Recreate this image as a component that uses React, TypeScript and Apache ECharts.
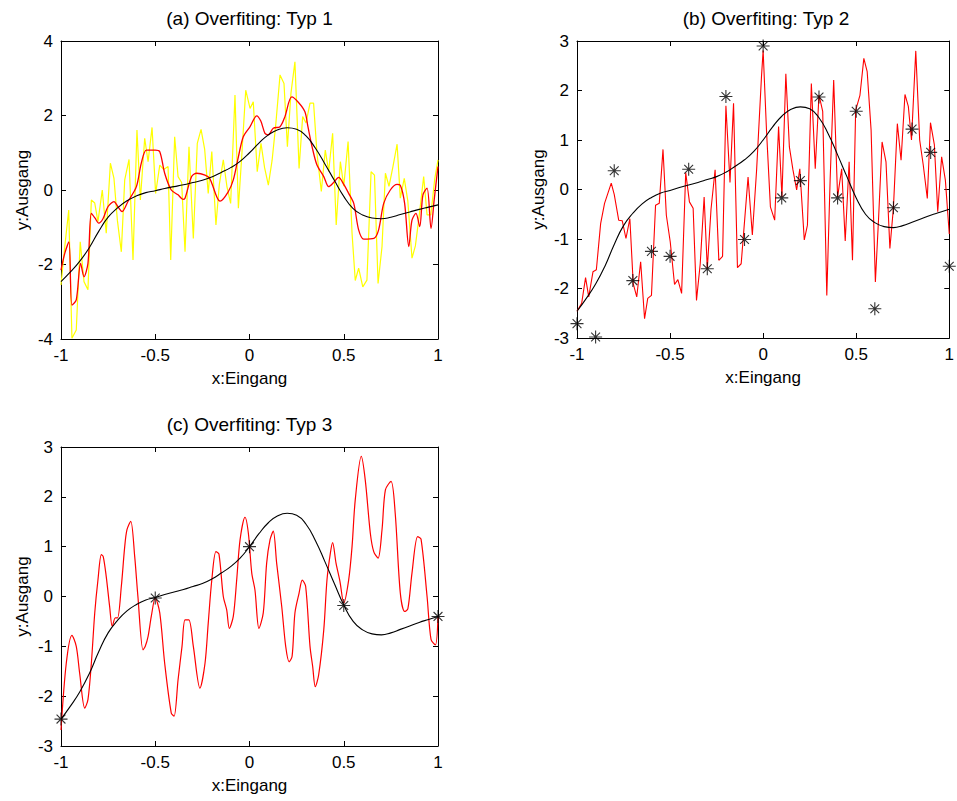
import React, { useEffect, useRef } from "react";
import * as echarts from "echarts";

// ---------- data ----------
const xTicks = [-1, -0.5, 0, 0.5, 1];

// true function (black curve), sampled every 0.05
const trueX = [-1, -0.95, -0.9, -0.85, -0.8, -0.75, -0.7, -0.65, -0.6, -0.55, -0.5, -0.45, -0.4, -0.35, -0.3, -0.25, -0.2, -0.15, -0.1, -0.05, 0, 0.05, 0.1, 0.15, 0.2, 0.25, 0.3, 0.35, 0.4, 0.45, 0.5, 0.55, 0.6, 0.65, 0.7, 0.75, 0.8, 0.85, 0.9, 0.95, 1];
const trueY = [-2.46, -2.2, -1.91, -1.55, -1.11, -0.73, -0.48, -0.29, -0.16, -0.07, -0.02, 0.04, 0.09, 0.14, 0.2, 0.26, 0.35, 0.47, 0.6, 0.77, 1.0, 1.26, 1.48, 1.62, 1.67, 1.63, 1.45, 1.12, 0.7, 0.26, -0.17, -0.5, -0.67, -0.75, -0.77, -0.73, -0.66, -0.59, -0.52, -0.46, -0.4];

// (a) noisy samples (yellow)
const yellowA: [number, number][] = [
  [-1, -2.55], [-0.98, -1.52], [-0.959, -0.54], [-0.942, -3.98], [-0.919, -3.76], [-0.898, -1.39], [-0.878, -2.46], [-0.857, -2.68],
  [-0.839, -0.27], [-0.821, -0.35], [-0.804, -0.85], [-0.781, 0.0], [-0.76, -1.16], [-0.738, 0.72], [-0.719, 0.31], [-0.701, -0.81],
  [-0.68, -1.66], [-0.662, 0.27], [-0.639, 0.82], [-0.618, -1.88], [-0.597, 1.61], [-0.579, -0.27], [-0.556, 1.39], [-0.538, 0.76],
  [-0.517, 1.68], [-0.498, -0.09], [-0.476, 0.67], [-0.455, 0.55], [-0.432, 0.63], [-0.418, -1.88], [-0.397, 1.43], [-0.379, 0.36],
  [-0.36, 0.2], [-0.342, -1.66], [-0.321, 1.16], [-0.298, -1.3], [-0.277, 1.25], [-0.257, 1.63], [-0.238, 1.1], [-0.219, -0.09],
  [-0.2, 1.03], [-0.178, -0.94], [-0.16, 0.15], [-0.139, 0.81], [-0.12, 0.1], [-0.1, -0.36], [-0.077, 2.55], [-0.059, -0.49],
  [-0.04, 1.0], [-0.02, 2.68], [0.003, 2.19], [0.02, 2.37], [0.041, 0.49], [0.061, 1.25], [0.08, 0.6], [0.1, 0.13], [0.12, 0.8],
  [0.139, 1.74], [0.162, 3.09], [0.183, 2.86], [0.201, 1.16], [0.22, 2.6], [0.241, 3.44], [0.263, 0.58], [0.282, 1.97], [0.3, 1.8],
  [0.321, 2.33], [0.34, 2.33], [0.358, 0.98], [0.381, -0.04], [0.402, 1.07], [0.42, 0.5], [0.441, 1.52], [0.46, -0.94], [0.482, 0.76],
  [0.5, 0.1], [0.523, 1.3], [0.544, -1.16], [0.561, -2.43], [0.579, -2.1], [0.601, -2.6], [0.623, -2.42], [0.645, 0.49], [0.663, 0.4],
  [0.682, -2.51], [0.703, -1.52], [0.721, 0.45], [0.74, 0.1], [0.761, 0.63], [0.783, 1.23], [0.8, -0.22], [0.821, 0.31], [0.84, -0.3],
  [0.862, -1.83], [0.88, -1.5], [0.9, -0.7], [0.924, 0.36], [0.942, -0.67], [0.962, -0.67], [0.982, 0.27], [1, 0.81]
];

// (a) fitted curve (red)
const redA: [number, number][] = [
  [-1, -2.15], [-0.98, -1.7], [-0.958, -1.39], [-0.942, -3.09], [-0.919, -2.95], [-0.896, -1.97], [-0.878, -2.33], [-0.857, -1.97],
  [-0.839, -0.63], [-0.82, -0.75], [-0.8, -0.89], [-0.778, -0.78], [-0.751, -0.45], [-0.719, -0.31], [-0.698, -0.45], [-0.676, -0.58],
  [-0.645, -0.31], [-0.6, 0.09], [-0.574, 0.72], [-0.547, 1.07], [-0.5, 1.07], [-0.476, 1.03], [-0.45, 0.45], [-0.415, 0.0],
  [-0.379, -0.13], [-0.353, -0.25], [-0.342, -0.22], [-0.307, 0.36], [-0.28, 0.45], [-0.236, 0.4], [-0.21, 0.3], [-0.174, -0.18],
  [-0.156, -0.3], [-0.112, -0.04], [-0.086, 0.27], [-0.059, 0.89], [-0.033, 1.43], [0.003, 1.7], [0.038, 1.99], [0.06, 1.85],
  [0.082, 1.52], [0.1, 1.48], [0.126, 1.66], [0.162, 1.7], [0.188, 1.97], [0.224, 2.5], [0.26, 2.35], [0.294, 2.1], [0.31, 1.7],
  [0.332, 1.16], [0.358, 0.67], [0.394, 0.36], [0.42, 0.09], [0.446, 0.2], [0.473, 0.34], [0.5, 0.15], [0.526, -0.09], [0.553, -0.36],
  [0.579, -1.07], [0.606, -1.32], [0.66, -1.3], [0.685, -1.07], [0.712, -0.36], [0.747, 0.0], [0.783, 0.15], [0.8, 0.13],
  [0.823, -0.36], [0.845, -1.52], [0.862, -0.81], [0.883, -0.63], [0.903, -0.98], [0.92, -0.13], [0.942, 0.05], [0.963, -1.03],
  [0.98, -0.25], [1, 0.63]
];

// (b) training points (stars) and fitted curve (red)
const starsB: [number, number][] = [
  [-1, -2.71], [-0.9, -2.98], [-0.8, 0.38], [-0.7, -1.84], [-0.6, -1.25], [-0.5, -1.35], [-0.4, 0.41], [-0.3, -1.6], [-0.2, 1.88],
  [-0.1, -1.01], [0, 2.9], [0.1, -0.17], [0.2, 0.18], [0.3, 1.87], [0.4, -0.17], [0.5, 1.58], [0.6, -2.41], [0.7, -0.37], [0.8, 1.22],
  [0.9, 0.75], [1, -1.55]
];
const redB: [number, number][] = [
  [-1, -2.46], [-0.975, -2.3], [-0.954, -1.78], [-0.937, -2.17], [-0.914, -1.66], [-0.896, -1.62], [-0.873, -0.69], [-0.852, -0.28],
  [-0.816, 0.13], [-0.8, -0.1], [-0.776, -0.62], [-0.757, -0.63], [-0.737, -0.99], [-0.716, -0.59], [-0.698, -1.9], [-0.679, -2.17],
  [-0.658, -1.46], [-0.637, -2.61], [-0.62, -2.2], [-0.6, -2.14], [-0.578, -0.32], [-0.558, -0.28], [-0.538, 0.81], [-0.52, -0.52],
  [-0.499, -1.06], [-0.476, -1.92], [-0.458, -1.82], [-0.438, -2.1], [-0.416, 0.34], [-0.396, -0.25], [-0.376, -0.38], [-0.358, -2.24],
  [-0.338, -1.5], [-0.317, -0.15], [-0.3, -1.6], [-0.28, -0.4], [-0.258, 0.4], [-0.238, -1.43], [-0.218, -1.35], [-0.2, 1.69],
  [-0.178, 0.14], [-0.159, 1.74], [-0.138, -1.58], [-0.118, -1.5], [-0.081, 0.25], [-0.058, -0.92], [-0.035, 0.4], [-0.009, 2.27],
  [0.0, 2.81], [0.018, 1.2], [0.039, -0.35], [0.062, -0.62], [0.083, 1.27], [0.101, -0.15], [0.122, 2.34], [0.141, 0.86],
  [0.16, 0.4], [0.18, -0.01], [0.197, 0.42], [0.221, -1.02], [0.238, -0.72], [0.259, 2.14], [0.28, 0.42], [0.3, 1.91], [0.32, 1.58],
  [0.342, -2.14], [0.36, 0.2], [0.379, 2.21], [0.4, -0.15], [0.422, 0.42], [0.441, -1.04], [0.462, 0.56], [0.48, -1.43],
  [0.497, 1.6], [0.52, 1.9], [0.541, 2.65], [0.559, 2.38], [0.58, 1.2], [0.603, -1.87], [0.62, -0.6], [0.639, 0.96], [0.66, 0.56],
  [0.681, -1.19], [0.7, -0.37], [0.721, 1.33], [0.741, 0.59], [0.762, 1.92], [0.78, 1.68], [0.797, 1.0], [0.82, 2.8], [0.841, 1.0],
  [0.86, 0.5], [0.882, -0.18], [0.899, 1.35], [0.92, 0.9], [0.938, -0.45], [0.959, 0.66], [0.979, 0.19], [1, -0.9]
];

// (c) training points (stars) and fitted curve (red)
const starsC: [number, number][] = [[-1, -2.46], [-0.5, -0.03], [0, 1.0], [0.5, -0.18], [1, -0.4]];
const redC: [number, number][] = [
  [-1, -2.68], [-0.972, -1.34], [-0.942, -0.78], [-0.919, -1.0], [-0.901, -1.54], [-0.874, -2.24], [-0.857, -2.07], [-0.839, -1.34],
  [-0.821, -0.33], [-0.804, 0.33], [-0.786, 0.84], [-0.776, 0.8], [-0.76, 0.4], [-0.742, -0.2], [-0.728, -0.6], [-0.712, -0.43],
  [-0.7, -0.43], [-0.68, 0.2], [-0.662, 1.0], [-0.65, 1.34], [-0.63, 1.51], [-0.609, 0.8], [-0.592, 0.0], [-0.565, -1.07],
  [-0.553, -1.0], [-0.538, -0.8], [-0.521, -0.4], [-0.5, -0.03], [-0.476, -0.33], [-0.45, -1.34], [-0.415, -2.34], [-0.4, -2.4],
  [-0.379, -1.67], [-0.358, -1.0], [-0.342, -0.47], [-0.322, -0.47], [-0.298, -1.0], [-0.263, -1.84], [-0.236, -1.34], [-0.219, -0.54],
  [-0.2, 0.33], [-0.178, 0.9], [-0.162, 0.85], [-0.139, 0.0], [-0.121, -0.27], [-0.107, -0.64], [-0.086, -0.4], [-0.068, 0.33],
  [-0.05, 1.14], [-0.024, 1.59], [-0.006, 1.27], [0.012, 0.47], [0.029, 0.13], [0.05, -0.64], [0.073, -0.33], [0.091, 0.67],
  [0.109, 1.14], [0.126, 1.31], [0.144, 0.67], [0.171, -0.2], [0.192, -1.0], [0.21, -1.31], [0.226, -1.2], [0.241, -0.33],
  [0.263, 0.07], [0.28, 0.33], [0.298, 0.2], [0.321, -1.0], [0.335, -1.4], [0.349, -1.81], [0.367, -1.57], [0.394, -0.67],
  [0.411, 0.33], [0.429, 0.87], [0.441, 1.08], [0.459, 0.67], [0.48, 0.3], [0.5, -0.13], [0.526, 0.33], [0.544, 1.0], [0.561, 1.94],
  [0.593, 2.81], [0.614, 2.34], [0.641, 1.27], [0.659, 0.9], [0.682, 0.77], [0.703, 1.34], [0.721, 2.14], [0.751, 2.31],
  [0.773, 1.67], [0.8, 0.07], [0.823, -0.3], [0.84, -0.25], [0.862, 0.47], [0.892, 1.2], [0.91, 1.15], [0.942, 0.0],
  [0.963, -0.86], [0.986, -0.97], [1, -0.4]
];

const titles = ["(a) Overfiting: Typ 1", "(b) Overfiting: Typ 2", "(c) Overfiting: Typ 3"];
const yRanges = [
  { min: -4, max: 4, interval: 2 },
  { min: -3, max: 3, interval: 1 },
  { min: -3, max: 3, interval: 1 },
];
const xName = "x:Eingang";
const yName = "y:Ausgang";

// ---------- layout ----------
const FONT = '"Liberation Sans", Arial, Helvetica, sans-serif';
const grids = [
  { left: 61, top: 41, width: 377, height: 298 },
  { left: 577, top: 41, width: 378, height: 297 },
  { left: 61, top: 447, width: 377, height: 299 },
];

const STAR = "path://M0,5L10,5M5,0L5,10M1.6,1.6L8.4,8.4M8.4,1.6L1.6,8.4";

export default function App() {
  const ref = useRef<HTMLDivElement>(null);
  useEffect(() => {
    if (!ref.current) return;
    const chart = echarts.init(ref.current, undefined, { renderer: "svg" });
    const trueData = trueX.map((x, i) => [x, trueY[i]]);

    const xAxis: any[] = [];
    const yAxis: any[] = [];
    grids.forEach((g, gi) => {
      const common = {
        gridIndex: gi,
        type: "value",
        min: -1,
        max: 1,
        interval: 0.5,
        splitLine: { show: false },
        axisLine: { show: true, onZero: false, lineStyle: { color: "#000", width: 1 } },
        axisTick: { show: true, inside: true, length: 5, lineStyle: { color: "#000" } },
      };
      xAxis.push({
        ...common,
        position: "bottom",
        name: xName,
        nameLocation: "middle",
        nameGap: 31,
        nameTextStyle: { fontFamily: FONT, fontSize: 17, color: "#000" },
        axisLabel: { show: true, fontFamily: FONT, fontSize: 17, color: "#000", margin: 8, customValues: xTicks },
      });
      xAxis.push({ ...common, position: "top", axisLabel: { show: false } });
      const yr = yRanges[gi];
      const ycommon = {
        gridIndex: gi,
        type: "value",
        min: yr.min,
        max: yr.max,
        interval: yr.interval,
        splitLine: { show: false },
        axisLine: { show: true, onZero: false, lineStyle: { color: "#000", width: 1 } },
        axisTick: { show: true, inside: true, length: 5, lineStyle: { color: "#000" } },
      };
      yAxis.push({
        ...ycommon,
        position: "left",
        name: yName,
        nameLocation: "middle",
        nameGap: 30,
        nameRotate: 90,
        nameTextStyle: { fontFamily: FONT, fontSize: 17, color: "#000" },
        axisLabel: { show: true, fontFamily: FONT, fontSize: 17, color: "#000", margin: 8 },
      });
      yAxis.push({ ...ycommon, position: "right", axisLabel: { show: false } });
    });

    const line = (gi: number, data: any[], color: string, width: number, smooth: any, z: number) => ({
      type: "line",
      xAxisIndex: gi * 2,
      yAxisIndex: gi * 2,
      data,
      showSymbol: false,
      symbol: "none",
      smooth,
      lineStyle: { color, width },
      z,
      silent: true,
    });
    const stars = (gi: number, data: any[]) => ({
      type: "scatter",
      xAxisIndex: gi * 2,
      yAxisIndex: gi * 2,
      data,
      symbol: STAR,
      symbolSize: 13,
      itemStyle: { color: "none", borderColor: "#000", borderWidth: 1.1 },
      z: 10,
      silent: true,
    });

    const series: any[] = [
      line(0, yellowA, "#ffff00", 1.2, false, 2),
      line(0, redA, "#ff0000", 1.3, 0.3, 3),
      line(0, trueData, "#000000", 1.1, true, 4),
      line(1, redB, "#ff0000", 1.1, false, 3),
      line(1, trueData, "#000000", 1.1, true, 4),
      stars(1, starsB),
      line(2, redC, "#ff0000", 1.2, 0.3, 3),
      line(2, trueData, "#000000", 1.1, true, 4),
      stars(2, starsC),
    ];

    const graphic = grids.map((g, gi) => ({
      type: "text",
      x: g.left + g.width / 2,
      y: g.top - 23,
      style: { text: titles[gi], font: `19px ${FONT}`, fill: "#000", align: "center", verticalAlign: "middle" },
    }));

    chart.setOption({
      animation: false,
      backgroundColor: "#fff",
      grid: grids.map((g) => ({ ...g, containLabel: false })),
      xAxis,
      yAxis,
      series,
      graphic,
    });
    return () => chart.dispose();
  }, []);
  return <div ref={ref} style={{ position: "absolute", left: 0, top: 0, width: 957, height: 801 }} />;
}
